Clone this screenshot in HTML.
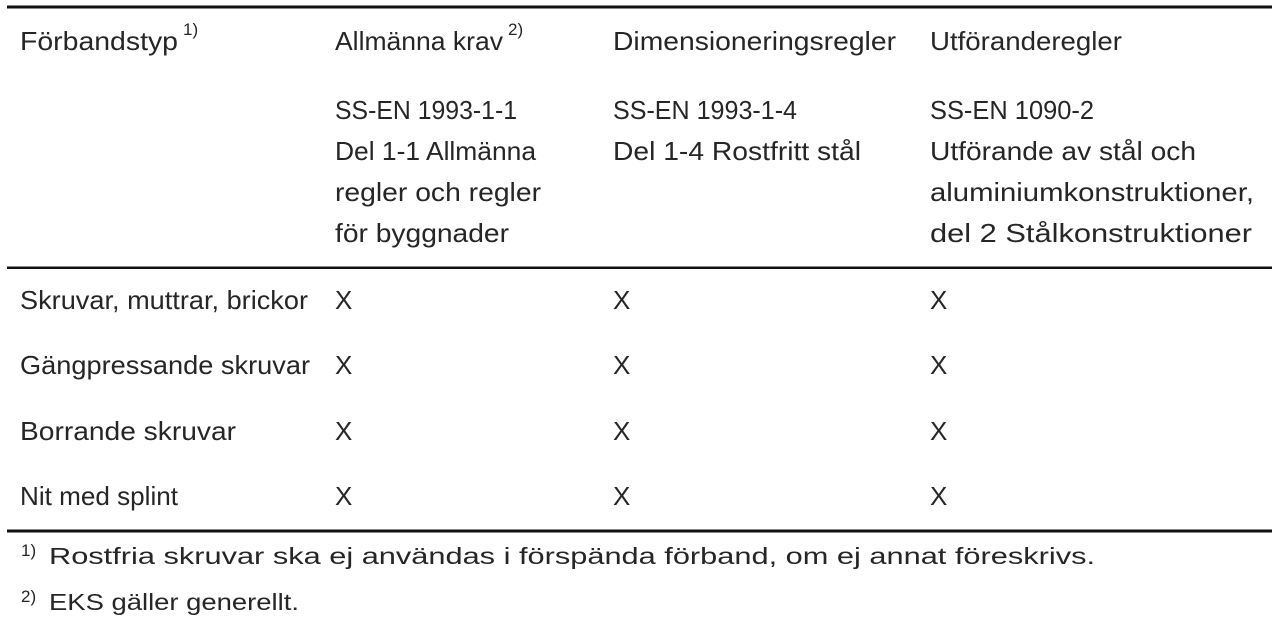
<!DOCTYPE html>
<html><head><meta charset="utf-8"><style>
html,body{margin:0;padding:0;background:#fff;}
svg{display:block;}
text{font-family:"Liberation Sans",sans-serif;fill:#262626;font-size:26px;}
.fn{font-size:23px;}
.sup{font-size:17px;}
</style></head><body>
<svg width="1272" height="632" viewBox="0 0 1272 632">
<rect x="7" y="5.5" width="1265" height="3" fill="#111"/>
<rect x="7" y="266.5" width="1265" height="2.5" fill="#111"/>
<rect x="7" y="529.5" width="1265" height="3" fill="#111"/>

<g>
<text x="20" y="50" textLength="158" lengthAdjust="spacingAndGlyphs">Förbandstyp</text>
<text x="183" y="35" class="sup">1)</text>
<text x="335" y="50" textLength="168" lengthAdjust="spacingAndGlyphs">Allmänna krav</text>
<text x="508" y="35" class="sup">2)</text>
<text x="613" y="50" textLength="283" lengthAdjust="spacingAndGlyphs">Dimensioneringsregler</text>
<text x="930" y="50" textLength="192" lengthAdjust="spacingAndGlyphs">Utföranderegler</text>

<g>
<text x="335" y="119" textLength="182" lengthAdjust="spacingAndGlyphs">SS-EN 1993-1-1</text>
<text x="335" y="160" textLength="201" lengthAdjust="spacingAndGlyphs">Del 1-1 Allmänna</text>
<text x="335" y="201" textLength="206" lengthAdjust="spacingAndGlyphs">regler och regler</text>
<text x="335" y="242" textLength="174" lengthAdjust="spacingAndGlyphs">för byggnader</text>
</g>
<g>
<text x="613" y="119" textLength="184" lengthAdjust="spacingAndGlyphs">SS-EN 1993-1-4</text>
<text x="613" y="160" textLength="248" lengthAdjust="spacingAndGlyphs">Del 1-4 Rostfritt stål</text>
</g>
<g>
<text x="930" y="119" textLength="164" lengthAdjust="spacingAndGlyphs">SS-EN 1090-2</text>
<text x="930" y="160" textLength="266" lengthAdjust="spacingAndGlyphs">Utförande av stål och</text>
<text x="930" y="201" textLength="324" lengthAdjust="spacingAndGlyphs">aluminiumkonstruktioner,</text>
<text x="930" y="242" textLength="322" lengthAdjust="spacingAndGlyphs">del 2 Stålkonstruktioner</text>
</g>
</g>

<g>
<text x="20" y="309" textLength="288" lengthAdjust="spacingAndGlyphs">Skruvar, muttrar, brickor</text>
<text x="335" y="309">X</text><text x="613" y="309">X</text><text x="930" y="309">X</text>
</g>
<g>
<text x="20" y="374" textLength="290" lengthAdjust="spacingAndGlyphs">Gängpressande skruvar</text>
<text x="335" y="374">X</text><text x="613" y="374">X</text><text x="930" y="374">X</text>
</g>
<g>
<text x="20" y="440" textLength="216" lengthAdjust="spacingAndGlyphs">Borrande skruvar</text>
<text x="335" y="440">X</text><text x="613" y="440">X</text><text x="930" y="440">X</text>
</g>
<g>
<text x="20" y="505" textLength="158" lengthAdjust="spacingAndGlyphs">Nit med splint</text>
<text x="335" y="505">X</text><text x="613" y="505">X</text><text x="930" y="505">X</text>
</g>

<g>
<text x="21" y="556" class="sup">1)</text>
<text x="49" y="564" class="fn" textLength="1046" lengthAdjust="spacingAndGlyphs">Rostfria skruvar ska ej användas i förspända förband, om ej annat föreskrivs.</text>
</g>
<g>
<text x="21" y="602" class="sup">2)</text>
<text x="49" y="610" class="fn" textLength="250" lengthAdjust="spacingAndGlyphs">EKS gäller generellt.</text>
</g>
</svg>
</body></html>
